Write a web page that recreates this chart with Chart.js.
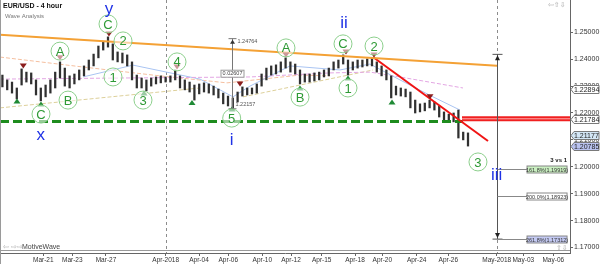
<!DOCTYPE html>
<html>
<head>
<meta charset="utf-8">
<title>EUR/USD - 4 hour</title>
<script src="https://cdn.jsdelivr.net/npm/chart.js@4.4.1/dist/chart.umd.min.js"></script>
<style>
    html, body { margin: 0; padding: 0; background: #fff; }
    #chart_box { width: 600px; height: 264px; }
</style>
</head>
<body>
<div id="chart_box"><canvas id="eurusd_chart" width="600" height="264"></canvas></div>
<script>
// one bar = 8 hours, Mar-19 .. Apr-27 2018 (weekends skipped)
var barHigh = [1.2341, 1.2323, 1.2315, 1.2293, 1.2364, 1.2352, 1.2349, 1.2323, 1.2293, 1.2304,
    1.2323, 1.2352, 1.2390, 1.2367, 1.2338, 1.2345, 1.2360, 1.2375, 1.2397, 1.2419,
    1.2449, 1.2464, 1.2483, 1.2457, 1.2427, 1.2423, 1.2416, 1.2390, 1.2341, 1.2330,
    1.2323, 1.2330, 1.2334, 1.2338, 1.2334, 1.2338, 1.2360, 1.2338, 1.2323, 1.2315,
    1.2304, 1.2308, 1.2312, 1.2308, 1.2300, 1.2289, 1.2274, 1.2263, 1.2256, 1.2278,
    1.2297, 1.2293, 1.2293, 1.2308, 1.2345, 1.2367, 1.2375, 1.2379, 1.2390, 1.2405,
    1.2390, 1.2382, 1.2360, 1.2345, 1.2345, 1.2349, 1.2352, 1.2360, 1.2367, 1.2390,
    1.2397, 1.2416, 1.2397, 1.2390, 1.2397, 1.2397, 1.2401, 1.2405, 1.2390, 1.2375,
    1.2360, 1.2338, 1.2300, 1.2293, 1.2289, 1.2278, 1.2248, 1.2234, 1.2237, 1.2248,
    1.2241, 1.2226, 1.2204, 1.2196, 1.2200, 1.2211, 1.2129, 1.2126];
var barLow = [1.2297, 1.2286, 1.2274, 1.2252, 1.2304, 1.2315, 1.2308, 1.2267, 1.2245, 1.2260,
    1.2274, 1.2293, 1.2330, 1.2300, 1.2293, 1.2308, 1.2323, 1.2338, 1.2360, 1.2375,
    1.2405, 1.2434, 1.2445, 1.2397, 1.2390, 1.2386, 1.2375, 1.2323, 1.2293, 1.2293,
    1.2282, 1.2300, 1.2308, 1.2312, 1.2315, 1.2315, 1.2323, 1.2293, 1.2286, 1.2278,
    1.2248, 1.2271, 1.2278, 1.2274, 1.2267, 1.2256, 1.2234, 1.2226, 1.2219, 1.2241,
    1.2263, 1.2267, 1.2271, 1.2274, 1.2300, 1.2323, 1.2341, 1.2345, 1.2352, 1.2367,
    1.2352, 1.2345, 1.2308, 1.2315, 1.2315, 1.2319, 1.2323, 1.2334, 1.2338, 1.2360,
    1.2367, 1.2382, 1.2341, 1.2360, 1.2367, 1.2371, 1.2375, 1.2375, 1.2352, 1.2338,
    1.2323, 1.2256, 1.2267, 1.2263, 1.2260, 1.2219, 1.2200, 1.2204, 1.2208, 1.2219,
    1.2211, 1.2185, 1.2174, 1.2170, 1.2167, 1.2107, 1.2100, 1.2077];

// x axis: bar index where each date label sits
var dateTicks = [8.52, 14.56, 21.58, 34.02, 40.96, 47.06, 54.15, 60.13, 66.52, 73.46, 79.15, 86.31, 92.9, 102.98, 108.52, 114.77];
var dateLabels = ['Mar-21', 'Mar-23', 'Mar-27', 'Apr-2018', 'Apr-04', 'Apr-06', 'Apr-10', 'Apr-12', 'Apr-15', 'Apr-18', 'Apr-20', 'Apr-24', 'Apr-26', 'May-2018', 'May-03', 'May-06'];
var monthStarts = [34.02, 102.98];
var priceTicks = [1.17, 1.18, 1.19, 1.20, 1.21, 1.22, 1.23, 1.24, 1.25];

// trend lines
var orangeX = [-0.5, 103.04];
var orangeY = [1.2491, 1.2376];
var redX = [77.2, 101.17];
var redY = [1.2408, 1.2096];
var supportX = [-0.5, 95.96];
var supportY = [1.2168, 1.2168];
var resistX = [95.75, 118.25];
var resistY = [1.21784, 1.21784];

// moving averages (faint)
var maPinkX = [-0.5, 24.5, 51.58, 68.25, 76.58, 82.83, 95.96];
var maPinkY = [1.2326, 1.2330, 1.2334, 1.2349, 1.2352, 1.2334, 1.2293];
var maBlueX = [16.79, 27.21, 41.17, 48.04, 51.58, 59.92, 70.33, 76.58, 82.83, 89.71, 95.33];
var maBlueY = [1.2334, 1.2378, 1.2326, 1.2260, 1.2300, 1.2375, 1.2360, 1.2382, 1.2323, 1.2260, 1.2211];
var maTanX = [-0.5, 41.17, null, 50.13, 77.21];
var maTanY = [1.2219, 1.2293, null, 1.2260, 1.2360];
var maSalmonX = [-0.5, 16.79, 32.83, 46.79, 62.0, 68.25];
var maSalmonY = [1.2408, 1.2371, 1.2338, 1.2312, 1.2341, 1.2338];

// wave counts
var waveText = ['C', 'A', 'B', 'C', '2', '1', '3', '4', '5', 'A', 'B', 'C', '1', '2', '3'];
var waveX = [8.04, 12.0, 13.67, 22.0, 25.13, 23.04, 29.29, 36.38, 47.77, 59.08, 62.0, 70.96, 72.0, 77.42, 99.08];
var waveY = [1.2196, 1.2430, 1.2248, 1.2531, 1.2468, 1.2334, 1.2248, 1.2390, 1.2181, 1.2442, 1.2259, 1.2457, 1.2293, 1.2449, 1.2018];
var degreeText = ['y', 'x', 'i', 'ii', 'iii'];
var degreeX = [22.2, 7.98, 47.77, 71.17, 102.98];
var degreeY = [1.2587, 1.2118, 1.2100, 1.2535, 1.1970];

// swing markers
var pivotHighX = [4.35, 12.0, 22.2, 36.38, 49.5, 59.08, 71.58, 77.42, 89.08];
var pivotHighY = [1.2375, 1.2405, 1.2494, 1.2371, 1.2308, 1.2416, 1.2427, 1.2416, 1.2260];
var pivotLowX = [3.04, 8.04, 29.5, 39.5, 47.83, 62.0, 72.0, 81.17];
var pivotLowY = [1.2245, 1.2233, 1.2274, 1.2239, 1.2215, 1.2293, 1.2330, 1.2241];

// price measure i
var measure1X = 47.77;
var measure1Top = 1.24764;
var measure1Bottom = 1.22157;
// fib projection wave 3 vs 1
var measure2X = 102.98;
var measure2Top = 1.2418;
var fibLevels = [1.19919, 1.18923, 1.17312];
var fibNames = ['161.8%(1.19919)', '200.0%(1.18923)', '261.8%(1.17312)'];
var fibEndX = 109.3;

// price boxes on the right axis
var axisMarks = [1.22894, 1.21784, 1.21177, 1.20785];

function pts(xs, ys) {
    return xs.map(function (v, i) { return v === null ? {x: NaN, y: NaN} : {x: v, y: ys[i]}; });
}

var FONT = 'Liberation Sans, Arial, sans-serif';

function noPad(s) {
    s.paddingLeft = 0;
    s.paddingRight = 0;
    s.paddingTop = 0;
    s.paddingBottom = 0;
}

var waveOverlay = {
    id: 'waveOverlay',
    beforeDatasetsDraw: function (chart) {
        var ctx = chart.ctx, a = chart.chartArea, xs = chart.scales.x;
        ctx.save();
        ctx.strokeStyle = '#8c8c8c';
        ctx.lineWidth = 1;
        ctx.setLineDash([3, 3]);
        monthStarts.forEach(function (v) {
            var px = Math.round(xs.getPixelForValue(v)) + 0.5;
            ctx.beginPath();
            ctx.moveTo(px, a.top);
            ctx.lineTo(px, a.bottom);
            ctx.stroke();
        });
        ctx.restore();
    },
    afterDatasetsDraw: function (chart) {
        var ctx = chart.ctx, xs = chart.scales.x, ys = chart.scales.y;
        ctx.save();

        // swing triangles
        ctx.fillStyle = '#8b1d1d';
        pivotHighX.forEach(function (v, i) {
            var px = xs.getPixelForValue(v), py = ys.getPixelForValue(pivotHighY[i]);
            ctx.beginPath();
            ctx.moveTo(px - 3.5, py - 2.5);
            ctx.lineTo(px + 3.5, py - 2.5);
            ctx.lineTo(px, py + 2.5);
            ctx.closePath();
            ctx.fill();
        });
        ctx.fillStyle = '#1f8a35';
        pivotLowX.forEach(function (v, i) {
            var px = xs.getPixelForValue(v), py = ys.getPixelForValue(pivotLowY[i]);
            ctx.beginPath();
            ctx.moveTo(px - 3.5, py + 2.5);
            ctx.lineTo(px + 3.5, py + 2.5);
            ctx.lineTo(px, py - 2.5);
            ctx.closePath();
            ctx.fill();
        });

        // measure i
        var mx = Math.round(xs.getPixelForValue(measure1X)) + 0.5;
        var mt = ys.getPixelForValue(measure1Top), mb = ys.getPixelForValue(measure1Bottom);
        ctx.strokeStyle = '#777';
        ctx.lineWidth = 1;
        ctx.beginPath();
        ctx.moveTo(mx, mt); ctx.lineTo(mx, mb);
        ctx.moveTo(mx - 4, mt); ctx.lineTo(mx + 4, mt);
        ctx.moveTo(mx - 4, mb); ctx.lineTo(mx + 4, mb);
        ctx.stroke();
        ctx.fillStyle = '#333';
        ctx.beginPath();
        ctx.moveTo(mx - 2.5, mt + 5); ctx.lineTo(mx + 2.5, mt + 5); ctx.lineTo(mx, mt + 1);
        ctx.closePath(); ctx.fill();
        ctx.font = '5.5px ' + FONT;
        ctx.fillStyle = '#555';
        ctx.textBaseline = 'middle';
        ctx.textAlign = 'left';
        ctx.fillText(measure1Top.toFixed(5), mx + 5, mt + 3);
        ctx.fillText(measure1Bottom.toFixed(5), mx + 3, mb - 4);
        var mm = ys.getPixelForValue((measure1Top + measure1Bottom) / 2);
        ctx.fillStyle = '#fff';
        ctx.strokeStyle = '#999';
        ctx.fillRect(mx - 11.5, mm - 3.5, 23, 7);
        ctx.strokeRect(mx - 11.5, mm - 3.5, 23, 7);
        ctx.fillStyle = '#444';
        ctx.textAlign = 'center';
        ctx.fillText((measure1Top - measure1Bottom).toFixed(5), mx, mm);

        // fib projection
        var fx = Math.round(xs.getPixelForValue(measure2X)) + 0.5;
        var ft = ys.getPixelForValue(measure2Top);
        var fb = ys.getPixelForValue(fibLevels[fibLevels.length - 1]);
        var fe = xs.getPixelForValue(fibEndX);
        ctx.strokeStyle = '#555';
        ctx.beginPath();
        ctx.moveTo(fx, ft); ctx.lineTo(fx, fb);
        ctx.moveTo(fx - 5, ft); ctx.lineTo(fx + 5, ft);
        ctx.moveTo(fx - 5, fb); ctx.lineTo(fx + 5, fb);
        ctx.stroke();
        ctx.fillStyle = '#222';
        ctx.beginPath();
        ctx.moveTo(fx - 2.5, ft + 6); ctx.lineTo(fx + 2.5, ft + 6); ctx.lineTo(fx, ft + 1);
        ctx.closePath(); ctx.fill();
        ctx.beginPath();
        ctx.moveTo(fx - 2.5, fb - 6); ctx.lineTo(fx + 2.5, fb - 6); ctx.lineTo(fx, fb - 1);
        ctx.closePath(); ctx.fill();
        var fibFill = ['#c9efc0', '#ffffff', '#c3c9f2'];
        ctx.strokeStyle = '#888';
        fibLevels.forEach(function (lv, i) {
            var py = Math.round(ys.getPixelForValue(lv)) + 0.5;
            ctx.beginPath();
            ctx.moveTo(fx, py); ctx.lineTo(fe, py);
            ctx.stroke();
            ctx.fillStyle = fibFill[i];
            ctx.fillRect(fe, py - 3.5, 40, 7);
            ctx.strokeRect(fe, py - 3.5, 40, 7);
            ctx.fillStyle = '#333';
            ctx.font = '5.5px ' + FONT;
            ctx.textAlign = 'center';
            ctx.fillText(fibNames[i], fe + 20, py + 0.5);
        });
        ctx.font = 'bold 6px ' + FONT;
        ctx.fillStyle = '#222';
        ctx.textAlign = 'right';
        ctx.fillText('3 vs 1', fe + 40, ys.getPixelForValue(fibLevels[0]) - 9);

        // wave circles
        ctx.textAlign = 'center';
        ctx.textBaseline = 'middle';
        waveText.forEach(function (t, i) {
            var px = xs.getPixelForValue(waveX[i]), py = ys.getPixelForValue(waveY[i]);
            ctx.beginPath();
            ctx.arc(px, py, 9, 0, Math.PI * 2);
            ctx.fillStyle = 'rgba(255,255,255,0.55)';
            ctx.fill();
            ctx.strokeStyle = '#8ccf8c';
            ctx.lineWidth = 1;
            ctx.stroke();
            ctx.fillStyle = '#2e9a35';
            ctx.font = '13px ' + FONT;
            ctx.fillText(t, px, py + 1);
        });

        // degree labels
        ctx.fillStyle = '#1f32e6';
        ctx.font = '17px ' + FONT;
        degreeText.forEach(function (t, i) {
            ctx.fillText(t, xs.getPixelForValue(degreeX[i]), ys.getPixelForValue(degreeY[i]));
        });
        ctx.restore();
    },
    afterDraw: function (chart) {
        var ctx = chart.ctx, ys = chart.scales.y, a = chart.chartArea;
        ctx.save();
        // frame
        ctx.strokeStyle = '#9a9a9a';
        ctx.lineWidth = 1;
        ctx.beginPath();
        ctx.moveTo(0.5, 0); ctx.lineTo(0.5, 264);
        ctx.moveTo(a.left, a.bottom - 2.5); ctx.lineTo(a.right, a.bottom - 2.5);
        ctx.stroke();

        // title
        ctx.textBaseline = 'middle';
        ctx.textAlign = 'left';
        ctx.fillStyle = '#111';
        ctx.font = 'bold 7px ' + FONT;
        ctx.fillText('EUR/USD - 4 hour', 3, 6);
        ctx.fillStyle = '#777';
        ctx.font = '6px ' + FONT;
        ctx.fillText('Wave Analysis', 5, 16);
        ctx.font = '7px ' + FONT;
        ctx.fillStyle = '#444';
        ctx.fillText('MotiveWave', 22, 247);
        ctx.fillStyle = '#aaa';
        ctx.font = '7px DejaVu Sans';
        ctx.fillText('\u21E6 \u21E8\u21E8', 3, 247);
        ctx.fillText('\u21E6\u21E7\u21E9', 548, 5);
        ctx.fillText('\u21E7\u21E9', 556, 248);

        // price boxes on the axis
        var boxFill = ['#ffffff', '#ffffff', '#d3e6f5', '#b9c2ef'];
        ctx.font = '7px ' + FONT;
        axisMarks.forEach(function (v, i) {
            var py = Math.round(ys.getPixelForValue(v)) + 0.5;
            ctx.beginPath();
            ctx.moveTo(a.right + 1, py);
            ctx.lineTo(a.right + 4, py - 4);
            ctx.lineTo(599, py - 4);
            ctx.lineTo(599, py + 4);
            ctx.lineTo(a.right + 4, py + 4);
            ctx.closePath();
            ctx.fillStyle = boxFill[i];
            ctx.fill();
            ctx.strokeStyle = '#7a7a7a';
            ctx.stroke();
            ctx.fillStyle = '#222';
            ctx.fillText(v.toFixed(5), a.right + 4, py + 0.5);
        });
        ctx.restore();
    }
};

var ctx = document.getElementById('eurusd_chart').getContext('2d');
var bars = barHigh.map(function (h, i) { return {x: i, y: [barLow[i], h]}; });

var myChart = new Chart(ctx, {
    type: 'bar',
    data: {
        datasets: [
            {type: 'line', data: pts(orangeX, orangeY), borderColor: '#f4a135', borderWidth: 2, pointRadius: 0, order: 1},
            {type: 'line', data: pts(redX, redY), borderColor: '#f01414', borderWidth: 2, pointRadius: 0, order: 1},
            {type: 'line', data: pts(resistX, resistY), borderColor: '#f02020', borderWidth: 5, pointRadius: 0, order: 2},
            {type: 'line', data: pts(resistX, resistY), borderColor: '#ffb0b0', borderWidth: 1, pointRadius: 0, order: 1},
            {type: 'line', data: pts(supportX, supportY), borderColor: '#1e8c1e', borderWidth: 3, borderDash: [9, 4], pointRadius: 0, order: 2},
            {data: bars, backgroundColor: '#303030', barThickness: 1.6, grouped: false, order: 3},
            {type: 'line', data: pts(maPinkX, maPinkY), borderColor: '#e3a6e3', borderWidth: 1, borderDash: [4, 2], pointRadius: 0, order: 4},
            {type: 'line', data: pts(maBlueX, maBlueY), borderColor: '#a9c4f2', borderWidth: 1, pointRadius: 0, order: 4},
            {type: 'line', data: pts(maTanX, maTanY), borderColor: '#ddd09a', borderWidth: 1, borderDash: [4, 2], pointRadius: 0, spanGaps: false, order: 4},
            {type: 'line', data: pts(maSalmonX, maSalmonY), borderColor: '#f5bf9f', borderWidth: 1, borderDash: [4, 2], pointRadius: 0, order: 4}
        ]
    },
    options: {
        responsive: false,
        animation: false,
        devicePixelRatio: 1,
        layout: {padding: {left: 0, right: 0, top: 0, bottom: 0}},
        plugins: {legend: {display: false}, tooltip: {enabled: false}},
        scales: {
            x: {
                type: 'linear',
                offset: false,
                min: -0.5,
                max: 118.25,
                afterBuildTicks: function (s) { s.ticks = dateTicks.map(function (v) { return {value: v}; }); },
                afterFit: function (s) { s.height = 11; noPad(s); },
                ticks: {
                    autoSkip: false,
                    maxRotation: 0,
                    padding: 0,
                    color: '#333',
                    font: {family: FONT, size: 6.5},
                    callback: function (v, i) { return dateLabels[i]; }
                },
                grid: {offset: false, drawOnChartArea: false, tickLength: 3, color: '#666'},
                border: {color: '#666'}
            },
            y: {
                type: 'linear',
                position: 'right',
                min: 1.16795,
                max: 1.26201,
                afterBuildTicks: function (s) { s.ticks = priceTicks.map(function (v) { return {value: v}; }); },
                afterFit: function (s) { s.width = 30; noPad(s); },
                ticks: {
                    padding: 1,
                    color: '#333',
                    font: {family: FONT, size: 7},
                    callback: function (v) { return v.toFixed(5); }
                },
                grid: {drawOnChartArea: false, tickLength: 3, color: '#666'},
                border: {color: '#666'}
            }
        }
    },
    plugins: [waveOverlay]
});
</script>
</body>
</html>
